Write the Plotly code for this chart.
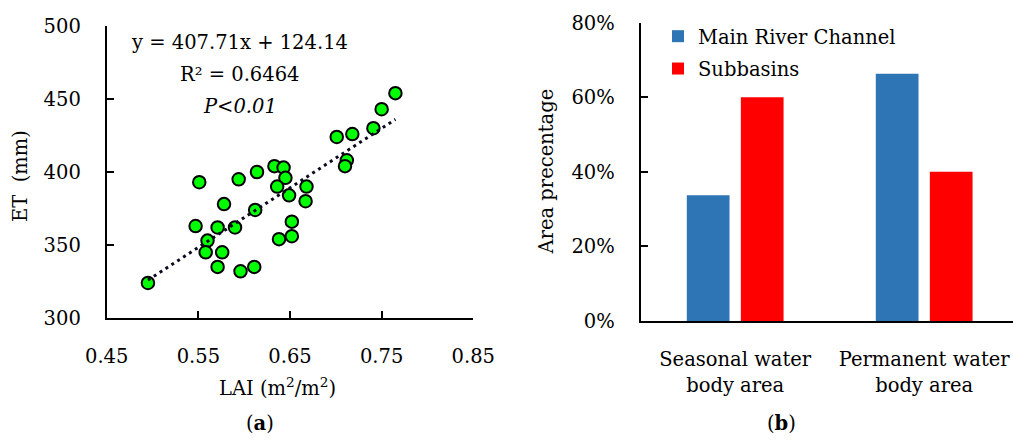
import plotly.graph_objects as go

W, H = 1013, 441

# ---- Data: panel (a) ----
lai = [0.495, 0.765, 0.750, 0.741, 0.701, 0.718, 0.712, 0.710, 0.633, 0.643,
       0.645, 0.614, 0.594, 0.551, 0.636, 0.668, 0.649, 0.667, 0.578, 0.612,
       0.547, 0.571, 0.590, 0.652, 0.652, 0.638, 0.560, 0.558, 0.576, 0.571,
       0.596, 0.611]
et = [324, 454, 443, 430, 424, 426, 408, 404, 404, 403,
      396, 400, 395, 393, 390, 390, 384, 380, 378, 374,
      363, 362, 362, 366, 356, 354, 353, 345, 345, 335,
      332, 335]
slope, intercept = 407.71, 124.14
eq_lines = ["y = 407.71x + 124.14", "R² = 0.6464", "<i>P<0.01</i>"]

# ---- Data: panel (b) ----
categories = ["Seasonal water<br>body area", "Permanent water<br>body area"]
main_channel = [0.337, 0.663]
subbasins = [0.600, 0.400]
series_names = ["Main River Channel", "Subbasins"]
colors = ["#2E75B6", "#FF0000"]

FONT = "DejaVu Serif"
FS = 19.5


def px_x(p):
    return p / W


def px_y(p):
    return 1 - p / H


fig = go.Figure()

fig.add_trace(go.Scatter(
    x=lai, y=et, mode="markers", xaxis="x", yaxis="y", showlegend=False,
    marker=dict(color="#00FF00", size=12.5, line=dict(color="black", width=2)),
))
tx = [min(lai), max(lai)]
ty = [slope * v + intercept for v in tx]
fig.add_trace(go.Scatter(
    x=tx, y=ty, mode="lines", xaxis="x", yaxis="y", showlegend=False,
    line=dict(color="#0a0a1e", width=3, dash="3px,4px"),
))

fig.add_trace(go.Bar(
    x=categories, y=main_channel, name=series_names[0], xaxis="x2", yaxis="y2",
    marker=dict(color=colors[0], line=dict(width=0)), width=0.226, offset=-0.256,
    legendgroup="a",
))
fig.add_trace(go.Bar(
    x=categories, y=subbasins, name=series_names[1], xaxis="x2", yaxis="y2",
    marker=dict(color=colors[1], line=dict(width=0)), width=0.226, offset=0.030,
    legendgroup="b",
))

axis_common = dict(showline=True, linecolor="black", linewidth=2, ticks="inside",
                   ticklen=7, tickwidth=2, tickcolor="black", showgrid=False,
                   zeroline=False, tickfont=dict(family=FONT, size=FS, color="black"),
                   ticklabelstandoff=20, automargin=False)

fig.update_layout(
    width=W, height=H,
    margin=dict(l=0, r=0, t=0, b=0, autoexpand=False),
    paper_bgcolor="white", plot_bgcolor="white",
    font=dict(family=FONT, size=FS, color="black"),
    xaxis=dict(domain=[px_x(106.7), px_x(473.3)], range=[0.45, 0.85],
               tick0=0.45, dtick=0.1, tickformat=".2f", anchor="y", **axis_common),
    yaxis=dict(domain=[px_y(318), px_y(26)], range=[300, 500], dtick=50,
               anchor="x", **axis_common),
    xaxis2=dict(domain=[px_x(640.7), 1.0], range=[-0.5, 1.47], anchor="y2",
                **{**axis_common, "ticks": "", "ticklen": 0}),
    yaxis2=dict(domain=[px_y(321), px_y(22.7)], range=[0, 0.8], dtick=0.2,
                tickformat=".0%", anchor="x2", **axis_common),
    barmode="group",
    showlegend=True,
    legend=dict(x=px_x(658), y=px_y(17), xanchor="left", yanchor="top",
                bgcolor="rgba(0,0,0,0)", font=dict(family=FONT, size=FS),
                traceorder="grouped", tracegroupgap=4, itemwidth=30),
)

annotations = [
    dict(text="ET  (mm)", x=px_x(20), y=px_y(176), textangle=-90),
    dict(text="LAI (m<sup>2</sup>/m<sup>2</sup>)", x=px_x(277.5), y=px_y(386.7)),
    dict(text="(<b>a</b>)", x=px_x(260), y=px_y(423)),
    dict(text="Area precentage", x=px_x(546.7), y=px_y(171.7), textangle=-90),
    dict(text="(<b>b</b>)", x=px_x(781), y=px_y(423)),
]
for a in annotations:
    fig.add_annotation(xref="paper", yref="paper", xanchor="center", yanchor="middle",
                       showarrow=False, font=dict(family=FONT, size=FS, color="black"), **a)

eq_y = [488.6, 467.1, 444.7]
for t, yv in zip(eq_lines, eq_y):
    fig.add_annotation(xref="x", yref="y", x=0.595, y=yv, text=t, showarrow=False,
                       xanchor="center", yanchor="middle",
                       font=dict(family=FONT, size=FS, color="black"))

fig.write_html("out.html")
